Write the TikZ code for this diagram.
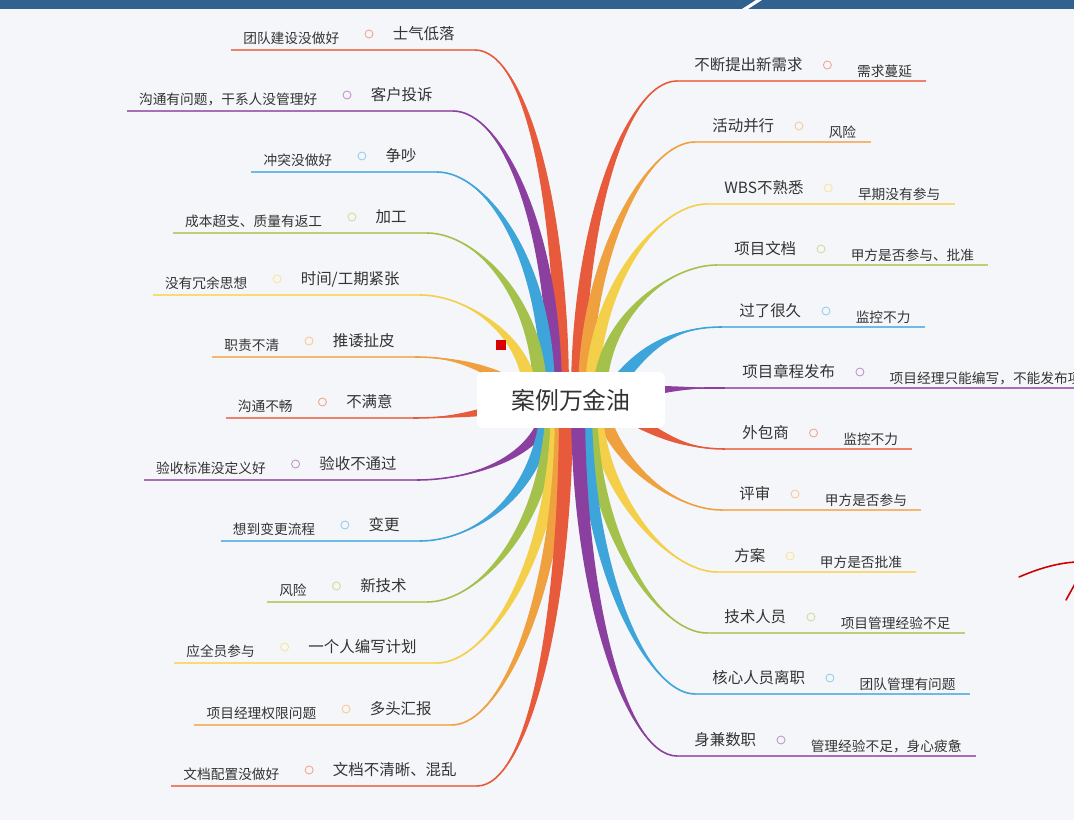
\documentclass[tikz,border=0pt]{standalone}
\usepackage{fontspec}
\setmainfont{Noto Sans CJK SC}
\usetikzlibrary{positioning, calc}

\definecolor{brRed}{HTML}{E85A3C}
\definecolor{brOrange}{HTML}{EFA03F}
\definecolor{brYellow}{HTML}{F4CF4A}
\definecolor{brGreen}{HTML}{A4C14B}
\definecolor{brBlue}{HTML}{3DA5DA}
\definecolor{brPurple}{HTML}{8B3F9E}
\definecolor{txtGray}{HTML}{333333}
\definecolor{bgGray}{HTML}{F5F6F9}
\definecolor{barBlue}{HTML}{30618F}

\tikzset{
  topic/.style={font=\fontsize{8.8}{10}\selectfont, text=txtGray, inner sep=0pt},
  subtopic/.style={font=\fontsize{7.8}{9}\selectfont, text=txtGray, inner sep=0pt},
  knob/.style={circle, draw=#1!55, line width=0.5pt, minimum size=0.16cm, inner sep=0pt},
  uline/.style={line width=0.65pt},
  centre/.style={fill=white, rounded corners=0.12cm, minimum width=3.76cm, minimum height=1.12cm,
    font=\fontsize{13.6}{16}\selectfont, text=txtGray}
}

\begin{document}
\begin{tikzpicture}[x=0.02cm, y=-0.02cm]
\useasboundingbox (0,0) rectangle (1074,820);
\fill[bgGray] (0,0) rectangle (1074,820);
% title bar
\fill[barBlue] (0,0) rectangle (1074,9);
\fill[white] (742,9) -- (748,9) -- (762,0) -- (756,0) -- cycle;

% left branches
\foreach \y/\x/\sx/\sy/\cx/\cy/\col/\topic/\sub [count=\i] in {
  50/475/562/395/562/200/brRed/{士气低落}/{团队建设没做好},
  111/453/555/395/555/230/brPurple/{客户投诉}/{沟通有问题，干系人没管理好},
  172/437/548/395/548/260/brBlue/{争吵}/{冲突没做好},
  233/427/540/395/540/300/brGreen/{加工}/{成本超支、质量有返工},
  295/420/530/395/530/340/brYellow/{时间/工期紧张}/{没有冗余思想},
  357/415/540/400/495/372/brOrange/{推诿扯皮}/{职责不清},
  418/413/540/400/495/410/brRed/{不满意}/{沟通不畅},
  480/417/550/405/540/460/brPurple/{验收不通过}/{验收标准没定义好},
  541/420/548/405/540/500/brBlue/{变更}/{想到变更流程},
  602/427/553/405/548/530/brGreen/{新技术}/{风险},
  663/437/558/405/556/560/brYellow/{一个人编写计划}/{应全员参与},
  725/452/562/405/562/590/brOrange/{多头汇报}/{项目经理权限问题},
  786/477/566/405/566/620/brRed/{文档不清晰、混乱}/{文档配置没做好}} {
  \coordinate (lE\i) at (\x,\y);
  \coordinate (lC\i) at (\x+50,\y);
  \coordinate (lD\i) at (\cx,\cy);
  \coordinate (lS\i) at (\sx,\sy);
  \coordinate (lSa\i) at ($(lS\i)!0.14cm!90:(lD\i)$);
  \coordinate (lSb\i) at ($(lS\i)!0.14cm!-90:(lD\i)$);
  \coordinate (lDa\i) at ($(lD\i)+(lSa\i)-(lS\i)$);
  \coordinate (lDb\i) at ($(lD\i)+(lSb\i)-(lS\i)$);
  \fill[\col] (lE\i) .. controls (lC\i) and (lDa\i) .. (lSa\i) -- (lSb\i)
    .. controls (lDb\i) and (lC\i) .. (lE\i) -- cycle;
  \draw[\col, line width=0.9pt] (lE\i) .. controls (lC\i) and (lD\i) .. (lS\i);
  \node[topic, anchor=east] (lT\i) at (\x-20,\y-16) {\topic};
  \node[knob=\col, left=0.38cm of lT\i] (lK\i) {};
  \node[subtopic, left=0.5cm of lK\i, yshift=-0.08cm] (lB\i) {\sub};
  \coordinate (lU\i) at (lB\i.west |- lE\i);
  \draw[\col!75, uline] ($(lU\i)+(-12,0)$) -- (lE\i);
}

% right branches
\foreach \y/\x/\sx/\sy/\cx/\cy/\col/\topic/\sub [count=\i] in {
  81/677/578/395/578/220/brRed/{不断提出新需求}/{需求蔓延},
  142/695/585/395/585/260/brOrange/{活动并行}/{风险},
  204/707/592/395/592/290/brYellow/{WBS不熟悉}/{早期没有参与},
  265/717/600/395/600/320/brGreen/{项目文档}/{甲方是否参与、批准},
  327/722/605/400/640/348/brBlue/{过了很久}/{监控不力},
  388/725/600/400/655/388/brPurple/{项目章程发布}/{项目经理只能编写，不能发布项},
  449/725/600/400/650/428/brRed/{外包商}/{监控不力},
  510/722/600/405/612/460/brOrange/{评审}/{甲方是否参与},
  572/717/595/405/598/490/brYellow/{方案}/{甲方是否批准},
  633/707/590/405/591/530/brGreen/{技术人员}/{项目管理经验不足},
  694/695/585/405/585/560/brBlue/{核心人员离职}/{团队管理有问题},
  756/677/578/405/578/600/brPurple/{身兼数职}/{管理经验不足，身心疲惫}} {
  \coordinate (rE\i) at (\x,\y);
  \coordinate (rC\i) at (\x-50,\y);
  \coordinate (rD\i) at (\cx,\cy);
  \coordinate (rS\i) at (\sx,\sy);
  \coordinate (rSa\i) at ($(rS\i)!0.14cm!90:(rD\i)$);
  \coordinate (rSb\i) at ($(rS\i)!0.14cm!-90:(rD\i)$);
  \coordinate (rDa\i) at ($(rD\i)+(rSa\i)-(rS\i)$);
  \coordinate (rDb\i) at ($(rD\i)+(rSb\i)-(rS\i)$);
  \fill[\col] (rE\i) .. controls (rC\i) and (rDa\i) .. (rSa\i) -- (rSb\i)
    .. controls (rDb\i) and (rC\i) .. (rE\i) -- cycle;
  \draw[\col, line width=0.9pt] (rE\i) .. controls (rC\i) and (rD\i) .. (rS\i);
  \node[topic, anchor=west] (rT\i) at (\x+17,\y-16) {\topic};
  \node[knob=\col, right=0.4cm of rT\i] (rK\i) {};
  \node[subtopic, right=0.5cm of rK\i, yshift=-0.12cm] (rB\i) {\sub};
  \coordinate (rU\i) at (rB\i.east |- rE\i);
  \draw[\col!75, uline] (rE\i) -- ($(rU\i)+(14,0)$);
}

% centre
\node[centre] (hub) at (571,400) {案例万金油};
\node[fill=red!85!black, minimum size=0.2cm, inner sep=0pt] (mark) at (501,345) {};

% hand-drawn pen stroke
\draw[red!80!black, line width=0.9pt, line cap=round] (1019,577) .. controls (1040,568) and (1058,563) .. (1076,562);
\draw[red!80!black, line width=0.9pt, line cap=round] (1066,600) -- (1076,582);
\end{tikzpicture}
\end{document}
